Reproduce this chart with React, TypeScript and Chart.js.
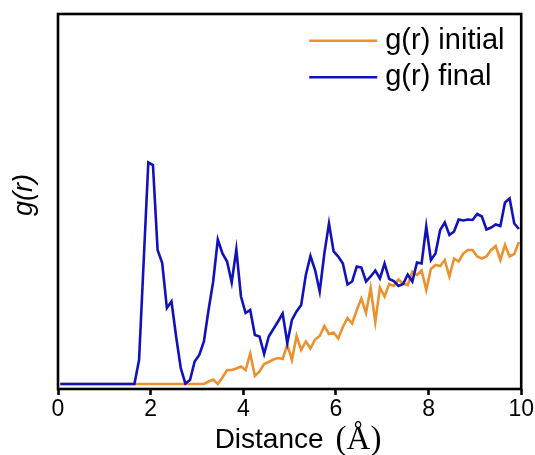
import React, { useEffect, useRef } from "react";
import { Chart, registerables } from "chart.js";

Chart.register(...registerables);

// Bin centres of the radial distribution (Å)
const r = [
  0.05, 0.15, 0.25, 0.35, 0.45, 0.55, 0.65, 0.75, 0.85, 0.95,
  1.05, 1.15, 1.25, 1.35, 1.45, 1.55, 1.65, 1.75, 1.85, 1.95,
  2.05, 2.15, 2.25, 2.35, 2.45, 2.55, 2.65, 2.75, 2.85, 2.95,
  3.05, 3.15, 3.25, 3.35, 3.45, 3.55, 3.65, 3.75, 3.85, 3.95,
  4.05, 4.15, 4.25, 4.35, 4.45, 4.55, 4.65, 4.75, 4.85, 4.95,
  5.05, 5.15, 5.25, 5.35, 5.45, 5.55, 5.65, 5.75, 5.85, 5.95,
  6.05, 6.15, 6.25, 6.35, 6.45, 6.55, 6.65, 6.75, 6.85, 6.95,
  7.05, 7.15, 7.25, 7.35, 7.45, 7.55, 7.65, 7.75, 7.85, 7.95,
  8.05, 8.15, 8.25, 8.35, 8.45, 8.55, 8.65, 8.75, 8.85, 8.95,
  9.05, 9.15, 9.25, 9.35, 9.45, 9.55, 9.65, 9.75, 9.85, 9.95,
];

const gInitial = [
  0, 0, 0, 0, 0, 0, 0, 0, 0, 0,
  0, 0, 0, 0, 0, 0, 0, 0, 0, 0,
  0, 0, 0, 0, 0, 0, 0, 0, 0, 0,
  0, 0, 0.05, 0.09, 0.0, 0.13, 0.28, 0.28, 0.31, 0.35,
  0.28, 0.61, 0.16, 0.25, 0.40, 0.44, 0.49, 0.52, 0.50, 0.79,
  0.48, 0.96, 0.68, 0.85, 0.71, 0.89, 0.96, 1.16, 1.00, 1.03,
  0.91, 1.14, 1.32, 1.21, 1.48, 1.71, 1.42, 1.92, 1.24, 1.93,
  1.75, 2.00, 1.96, 2.09, 2.01, 1.98, 2.25, 2.18, 2.27, 1.88,
  2.30, 2.38, 2.36, 2.48, 2.15, 2.51, 2.45, 2.61, 2.68, 2.68,
  2.55, 2.51, 2.55, 2.68, 2.76, 2.48, 2.78, 2.55, 2.60, 2.84,
];

const gFinal = [
  0, 0, 0, 0, 0, 0, 0, 0, 0, 0,
  0, 0, 0, 0, 0, 0, 0, 0.48, 2.46, 4.43,
  4.38, 2.68, 2.42, 1.52, 1.65, 0.95, 0.32, 0.01, 0.08, 0.45,
  0.58, 0.85, 1.48, 2.05, 2.89, 2.61, 2.45, 2.03, 2.69, 1.75,
  1.42, 1.48, 0.98, 0.95, 0.60, 0.95, 1.10, 1.25, 1.41, 0.82,
  1.28, 1.45, 1.58, 2.18, 2.56, 2.28, 1.85, 2.61, 3.21, 2.65,
  2.55, 2.41, 1.99, 2.05, 2.35, 2.33, 2.05, 2.15, 2.27, 2.11,
  2.41, 2.10, 2.06, 1.96, 2.00, 2.19, 2.05, 2.43, 2.41, 3.15,
  2.48, 2.61, 3.08, 3.23, 2.98, 3.05, 3.29, 3.27, 3.29, 3.28,
  3.40, 3.35, 3.09, 3.13, 3.19, 3.16, 3.63, 3.71, 3.21, 3.10,
];

const seriesLabels = ["g(r) initial", "g(r) final"];
const seriesColors = ["#EC912F", "#1212BB"];
const xTitleMain = "Distance";
const xTitleUnit = "(Å)";
const yTitle = "g(r)";

const SANS = '"Liberation Sans", Arial, sans-serif';
const SERIF = '"Liberation Serif", "DejaVu Serif", serif';

const decorations = {
  id: "decorations",
  afterDatasetsDraw(chart: any) {
    const { ctx, chartArea: a } = chart;
    ctx.save();
    // frame
    ctx.strokeStyle = "#000";
    ctx.lineWidth = 2.6;
    ctx.strokeRect(a.left, a.top, a.right - a.left, a.bottom - a.top);

    // legend
    const rows = [a.top + 26.7, a.top + 63.3];
    chart.data.datasets.forEach((ds: any, i: number) => {
      const y = rows[i];
      ctx.strokeStyle = ds.borderColor;
      ctx.lineWidth = 2.6;
      ctx.beginPath();
      ctx.moveTo(a.right - 212, y);
      ctx.lineTo(a.right - 144, y);
      ctx.stroke();
      ctx.fillStyle = "#000";
      ctx.font = `29px ${SANS}`;
      ctx.textAlign = "left";
      ctx.textBaseline = "alphabetic";
      ctx.fillText(ds.label, a.right - 136, y + 8);
    });

    // x title
    ctx.fillStyle = "#000";
    ctx.textBaseline = "alphabetic";
    ctx.textAlign = "left";
    ctx.font = `28px ${SANS}`;
    const w1 = ctx.measureText(xTitleMain).width;
    ctx.font = `33px ${SERIF}`;
    const w2 = ctx.measureText(xTitleUnit).width;
    const gap = 12;
    const start = 298 - (w1 + gap + w2) / 2;
    ctx.font = `28px ${SANS}`;
    ctx.fillText(xTitleMain, start, 448);
    ctx.font = `33px ${SERIF}`;
    ctx.fillText(xTitleUnit, start + w1 + gap, 449);

    // y title
    ctx.save();
    ctx.translate(32, 195);
    ctx.rotate(-Math.PI / 2);
    ctx.font = `italic 27px ${SANS}`;
    ctx.textAlign = "center";
    ctx.textBaseline = "alphabetic";
    ctx.fillText(yTitle, 0, 0);
    ctx.restore();

    ctx.restore();
  },
};

export default function App() {
  const canvasRef = useRef<HTMLCanvasElement | null>(null);

  useEffect(() => {
    const canvas = canvasRef.current;
    if (!canvas) return;
    const chart = new Chart(canvas, {
      type: "line",
      data: {
        datasets: [
          {
            label: seriesLabels[0],
            data: r.map((x, i) => ({ x, y: gInitial[i] })),
            borderColor: seriesColors[0],
            backgroundColor: seriesColors[0],
            borderWidth: 2.6,
            pointRadius: 0,
            tension: 0,
            order: 1,
          },
          {
            label: seriesLabels[1],
            data: r.map((x, i) => ({ x, y: gFinal[i] })),
            borderColor: seriesColors[1],
            backgroundColor: seriesColors[1],
            borderWidth: 2.6,
            pointRadius: 0,
            tension: 0,
            order: 0,
          },
        ],
      },
      options: {
        animation: false,
        responsive: true,
        maintainAspectRatio: false,
        layout: { padding: { left: 58, top: 14, right: 13, bottom: 0 } },
        plugins: {
          legend: { display: false },
          tooltip: { enabled: false },
          title: { display: false },
        },
        scales: {
          x: {
            type: "linear",
            min: 0,
            max: 10,
            afterFit: (scale: any) => {
              scale.height = 66;
            },
            border: { display: false },
            grid: {
              display: true,
              drawOnChartArea: false,
              drawTicks: true,
              tickLength: 6,
              tickColor: "#000",
              tickWidth: 2.6,
            },
            ticks: {
              stepSize: 2,
              padding: 1,
              color: "#000",
              font: { family: SANS, size: 23 },
              maxRotation: 0,
              callback: (v: any) => String(v),
            },
          },
          y: {
            type: "linear",
            display: false,
            min: -0.1,
            max: 7.4,
          },
        },
      },
      plugins: [decorations],
    });
    return () => chart.destroy();
  }, []);

  return (
    <div style={{ position: "absolute", left: 0, top: 0, width: 535, height: 455, background: "#fff" }}>
      <canvas ref={canvasRef} />
    </div>
  );
}
